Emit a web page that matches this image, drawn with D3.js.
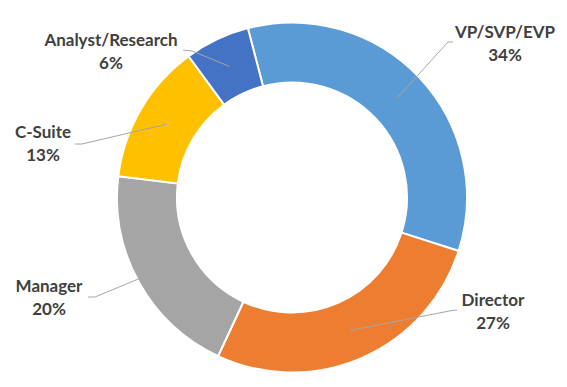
<!DOCTYPE html>
<html lang="en">
<head>
  <meta charset="UTF-8" />
  <title>Role breakdown</title>
  <style>
    body { margin: 0; background: #fff; }
    .label text {
      font-family: Lato, "Open Sans", sans-serif;
      font-weight: bold;
      font-size: 17px;
      fill: #404040;
    }
    .leader {
      fill: none;
      stroke: #a6a6a6;
      stroke-width: 1px;
    }
  </style>
  <script src="https://d3js.org/d3.v7.min.js"></script>
</head>
<body>
  <div id="chart"></div>
  <script type="text/javascript">
    const categories = ["VP/SVP/EVP", "Director", "Manager", "C-Suite", "Analyst/Research"];
    const values = [34, 27, 20, 13, 6];
    const colors = ["#5b9bd5", "#ed7d31", "#a5a5a5", "#ffc000", "#4472c4"];

    // label block centre, leader end and elbow (layout only)
    const labelPos = [
      { x: 505, y: 38, end: [453, 42], elbow: [448, 42] },
      { x: 493, y: 306, end: [457, 310], elbow: [452, 310.5] },
      { x: 49, y: 292, end: [88, 297], elbow: [95, 297] },
      { x: 43, y: 138, end: [75, 144], elbow: [82, 144] },
      { x: 111, y: 46, end: [183, 50], elbow: [192, 51] }
    ];

    const width = 567, height = 387;
    const cx = 292, cy = 197.5;
    const outerR = 175, innerR = 115;
    const startAngle = -14.6 * Math.PI / 180;

    const svg = d3.select("#chart").append("svg")
      .attr("width", width)
      .attr("height", height);

    const g = svg.append("g")
      .attr("transform", `translate(${cx},${cy})`);

    const pie = d3.pie()
      .sort(null)
      .startAngle(startAngle)
      .endAngle(startAngle + 2 * Math.PI)
      .value(d => d);

    const arcs = pie(values);
    const arc = d3.arc().innerRadius(innerR).outerRadius(outerR);

    g.selectAll(".slice")
      .data(arcs)
      .enter().append("path")
      .attr("class", "slice")
      .attr("d", arc)
      .attr("fill", (d, i) => colors[i])
      .attr("stroke", "#fff")
      .attr("stroke-width", 2);

    // leader lines from slice centroid to label
    svg.selectAll(".leader")
      .data(arcs)
      .enter().append("polyline")
      .attr("class", "leader")
      .attr("points", (d, i) => {
        const c = arc.centroid(d);
        const p = labelPos[i];
        return [[c[0] + cx, c[1] + cy], p.elbow, p.end].map(q => q.join(",")).join(" ");
      });

    const total = d3.sum(values);
    const label = svg.selectAll(".label")
      .data(arcs)
      .enter().append("g")
      .attr("class", "label")
      .attr("transform", (d, i) => `translate(${labelPos[i].x},${labelPos[i].y})`);

    label.append("text")
      .attr("text-anchor", "middle")
      .text((d, i) => categories[i]);

    label.append("text")
      .attr("text-anchor", "middle")
      .attr("y", 23)
      .text(d => Math.round(d.value / total * 100) + "%");
  </script>
</body>
</html>
